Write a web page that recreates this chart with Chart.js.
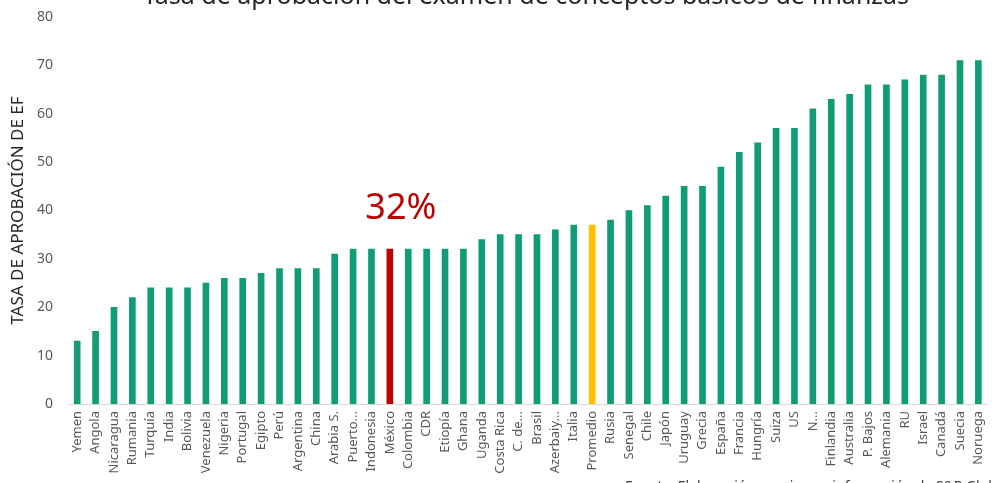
<!doctype html>
<html lang="es">
<head>
  <meta charset="utf-8">
  <title>Tasa de aprobación EF</title>
  <script src="https://cdn.jsdelivr.net/npm/chart.js"></script>
  <style>
    html, body { margin: 0; padding: 0; background: #fff; overflow: hidden; }
    #wrap { width: 1001px; height: 483px; }
  </style>
</head>
<body>
  <div id="wrap"><canvas id="canvas_ef"></canvas></div>
  <script type="text/javascript">

    const paises = ['Yemen', 'Angola', 'Nicaragua', 'Rumania', 'Turquía', 'India', 'Bolivia', 'Venezuela', 'Nigeria', 'Portugal',
      'Egipto', 'Perú', 'Argentina', 'China', 'Arabia S.', 'Puerto...', 'Indonesia', 'México', 'Colombia', 'CDR',
      'Etiopía', 'Ghana', 'Uganda', 'Costa Rica', 'C. de...', 'Brasil', 'Azerbaiy...', 'Italia', 'Promedio', 'Rusia',
      'Senegal', 'Chile', 'Japón', 'Uruguay', 'Grecia', 'España', 'Francia', 'Hungría', 'Suiza', 'US',
      'N...', 'Finlandia', 'Australia', 'P. Bajos', 'Alemania', 'RU', 'Israel', 'Canadá', 'Suecia', 'Noruega'];

    const tasa = [13, 15, 20, 22, 24, 24, 24, 25, 26, 26,
      27, 28, 28, 28, 31, 32, 32, 32, 32, 32,
      32, 32, 34, 35, 35, 35, 36, 37, 37, 38,
      40, 41, 43, 45, 45, 49, 52, 54, 57, 57,
      61, 63, 64, 66, 66, 67, 68, 68, 71, 71];

    const titulo = 'Tasa de aprobación del examen de conceptos básicos de finanzas';
    const fuente = 'Fuente: Elaboración propia con información de S&P Global FinLit Survey.';
    const etiqueta_mexico = '32%';

    const verde = '#109C74';
    const rojo = '#C00000';
    const amarillo = '#FFC000';

    const colores = paises.map(p => p === 'México' ? rojo : (p === 'Promedio' ? amarillo : verde));

    const textos_plugin = {
      id: 'textos',
      afterDraw(chart) {
        const ctx = chart.ctx;
        const x = chart.scales.x, y = chart.scales.y;
        ctx.save();

        // titulo (cortado arriba como en la imagen)
        ctx.font = '25px "Noto Sans"';
        ctx.fillStyle = '#262626';
        ctx.textAlign = 'center';
        ctx.textBaseline = 'alphabetic';
        ctx.fillText(titulo, 526, 4);

        // 32% sobre Mexico
        const i = paises.indexOf('México');
        ctx.font = '36px "Noto Sans"';
        ctx.fillStyle = rojo;
        ctx.fillText(etiqueta_mexico, x.getPixelForValue(i) + 11, y.getPixelForValue(tasa[i]) - 30);

        // fuente
        ctx.font = '14px "Noto Sans"';
        ctx.fillStyle = '#404040';
        ctx.textAlign = 'left';
        ctx.fillText(fuente, 625, 491);
        ctx.restore();
      }
    };

    new Chart(document.getElementById('canvas_ef'), {
      type: 'bar',
      data: { labels: paises, datasets: [{ data: tasa, backgroundColor: colores, barThickness: 6, borderWidth: 0 }] },
      options: {
        responsive: true, maintainAspectRatio: false, animation: false,
        layout: { padding: { top: 17, right: 2, left: 0, bottom: 0 } },
        plugins: { legend: { display: false }, tooltip: { enabled: false } },
        scales: {
          x: {
            grid: { display: false, drawTicks: false },
            border: { display: true, color: '#D9D9D9', width: 1 },
            ticks: { autoSkip: false, maxRotation: 90, minRotation: 90, padding: 7, color: '#595959', font: { family: 'Noto Sans', size: 13 } },
            afterFit: (s) => { s.height = 79; }
          },
          y: {
            min: 0, max: 80,
            grid: { display: false, drawTicks: true, tickLength: 12 },
            border: { display: false },
            ticks: { stepSize: 10, padding: 3, color: '#595959', font: { family: 'Noto Sans', size: 14 } },
            title: { display: true, text: 'TASA DE APROBACIÓN DE EF', color: '#262626', padding: { top: 8, bottom: 0 }, font: { family: 'Noto Sans', size: 17 } },
            afterFit: (s) => { s.width = 68; }
          }
        }
      },
      plugins: [textos_plugin]
    });

  </script>
</body>
</html>
